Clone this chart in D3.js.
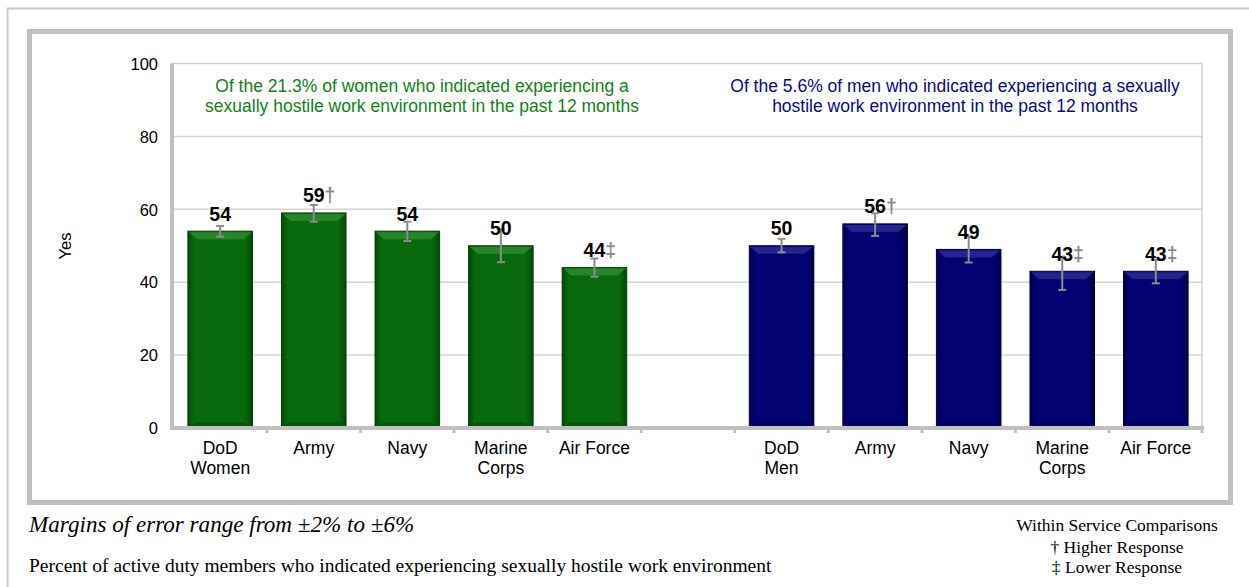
<!DOCTYPE html>
<html><head><meta charset="utf-8">
<script src="https://cdn.jsdelivr.net/npm/d3@7"></script>
<style>body{margin:0;background:#fff}svg{display:block}</style>
</head><body><svg id="c" width="1249" height="587"></svg>
<script>
const womenCategories = ["DoD\nWomen","Army","Navy","Marine\nCorps","Air Force"];
const menCategories = ["DoD\nMen","Army","Navy","Marine\nCorps","Air Force"];
const womenValues = [54,59,54,50,44];
const menValues = [50,56,49,43,43];
const womenErrLow = [52.5,56.6,51.3,45.5,41.5];
const womenErrHigh = [55.4,61.2,56.6,54.5,46.5];
const menErrLow = [48.2,52.7,45.4,37.9,39.7];
const menErrHigh = [51.9,58.9,52.5,47,46.1];
const womenMarks = ["","†","","","‡"];
const menMarks = ["","†","","‡","‡"];
const yTicks = [0,20,40,60,80,100];
const womenNote = ["Of the 21.3% of women who indicated experiencing a","sexually hostile work environment in the past 12 months"];
const menNote = ["Of the 5.6% of men who indicated experiencing a sexually","hostile work environment in the past 12 months"];

const svg = d3.select("#c");
const sans = "'Liberation Sans', Arial, sans-serif";
const serif = "'Liberation Serif', 'Times New Roman', serif";

// frames
svg.append("rect").attr("x",7.5).attr("y",8.5).attr("width",1260).attr("height",600).attr("fill","none").attr("stroke","#c8c8c8").attr("stroke-width",2);
svg.append("rect").attr("x",29.5).attr("y",31.5).attr("width",1201).attr("height",471).attr("fill","#fff").attr("stroke","#c0c0c0").attr("stroke-width",5);

const rows = [];
womenCategories.forEach((c,i)=>rows.push({key:"w"+i,label:c,v:womenValues[i],lo:womenErrLow[i],hi:womenErrHigh[i],mark:womenMarks[i],g:"w"}));
rows.push({key:"gap",label:"",v:null});
menCategories.forEach((c,i)=>rows.push({key:"m"+i,label:c,v:menValues[i],lo:menErrLow[i],hi:menErrHigh[i],mark:menMarks[i],g:"m"}));

const x = d3.scaleBand().domain(rows.map(d=>d.key)).range([172,1204]).paddingInner(0.31).paddingOuter(0.17);
const y = d3.scaleLinear().domain([0,100]).range([428,63.5]);

// defs
const defs = svg.append("defs");
function grad(id, edge, mid){
  const g = defs.append("linearGradient").attr("id",id).attr("x1",0).attr("x2",1).attr("y1",0).attr("y2",0);
  g.append("stop").attr("offset","0").attr("stop-color",edge);
  g.append("stop").attr("offset","0.1").attr("stop-color",mid);
  g.append("stop").attr("offset","0.88").attr("stop-color",mid);
  g.append("stop").attr("offset","1").attr("stop-color",edge);
}
grad("gw","#04470a","#086a0c");
grad("gm","#00004a","#020272");

// plot border and gridlines
const plot = svg.append("g");
plot.append("rect").attr("x",172).attr("y",63.5).attr("width",1030).attr("height",364.5).attr("fill","none").attr("stroke","#cfcfcf").attr("stroke-width",1.5);
plot.selectAll("line.grid").data(yTicks.filter(t=>t>0&&t<100)).join("line")
  .attr("x1",172).attr("x2",1202).attr("y1",d=>y(d)).attr("y2",d=>y(d)).attr("stroke","#d4d4d4").attr("stroke-width",1.5);

// annotation texts
function note(lines, cx, color){
  const t = svg.append("text").attr("font-family",sans).attr("font-size",17.5).attr("fill",color).attr("text-anchor","middle");
  lines.forEach((l,i)=>t.append("tspan").attr("x",cx).attr("y",92+i*20).text(l));
}
note(womenNote,422,"#13801a");
note(menNote,955,"#0a0a80");

// bars
const bars = rows.filter(d=>d.v!==null);
const bg = svg.append("g");
bars.forEach(d=>{
  const x0 = x(d.key), w = x.bandwidth(), y0 = y(d.v), h = y(0)-y(d.v);
  bg.append("rect").attr("x",x0).attr("y",y0).attr("width",w).attr("height",h)
    .attr("fill",d.g==="w"?"url(#gw)":"url(#gm)").attr("stroke",d.g==="w"?"#034003":"#000040").attr("stroke-width",1);
  bg.append("path").attr("d",`M${x0+1},${y0+1}L${x0+w-1},${y0+1}L${x0+w-9},${y0+8}L${x0+9},${y0+8}Z`)
    .attr("fill",d.g==="w"?"#2f8a2f":"#2a2a92").attr("opacity",0.85);
  bg.append("path").attr("d",`M${x0+1},${y(0)}L${x0+w-1},${y(0)}L${x0+w-8},${y(0)-6}L${x0+8},${y(0)-6}Z`)
    .attr("fill",d.g==="w"?"#054d05":"#000050").attr("opacity",0.6);
});

// error bars
const eg = svg.append("g").attr("stroke","#8c8c8c").attr("stroke-width",2);
bars.forEach(d=>{
  const cx = x(d.key)+x.bandwidth()/2;
  eg.append("line").attr("x1",cx).attr("x2",cx).attr("y1",y(d.hi)).attr("y2",y(d.lo));
  eg.append("line").attr("x1",cx-4).attr("x2",cx+4).attr("y1",y(d.hi)).attr("y2",y(d.hi));
  eg.append("line").attr("x1",cx-4).attr("x2",cx+4).attr("y1",y(d.lo)).attr("y2",y(d.lo));
});

// value labels
bars.forEach(d=>{
  const cx = x(d.key)+x.bandwidth()/2;
  const t = svg.append("text").attr("x",cx).attr("y",y(d.v)-10.5).attr("text-anchor","middle")
    .attr("font-family",sans).attr("font-size",19.5).attr("font-weight","bold").attr("fill","#000");
  t.append("tspan").text(d.v);
  if(d.mark){
    t.append("tspan").attr("fill","#8a8a8a").text(d.mark);
    t.attr("text-anchor","start");
    const numW = t.select("tspan").node().getComputedTextLength();
    t.attr("x",cx-numW/2);
  }
});

// axes
const yAxis = d3.axisLeft(y).tickValues(yTicks).tickSize(0).tickPadding(14);
const ya = svg.append("g").attr("transform","translate(172,0)").call(yAxis);
ya.select(".domain").attr("stroke","#c0c0c0").attr("stroke-width",4).attr("d","M0,63.5V430");
ya.selectAll("text").attr("font-family",sans).attr("font-size",16.5).attr("fill","#000").attr("dy","0.35em");

const xa = svg.append("g").attr("transform","translate(0,428)");
xa.append("line").attr("x1",170).attr("x2",1204).attr("y1",0).attr("y2",0).attr("stroke","#c0c0c0").attr("stroke-width",4);
const bounds = rows.map(d=>x(d.key)-x.step()*x.paddingInner()/2).slice(1).concat([1202]);
xa.selectAll("line.t").data(bounds).join("line").attr("x1",d=>d).attr("x2",d=>d).attr("y1",0).attr("y2",5).attr("stroke","#c0c0c0").attr("stroke-width",3);
bars.forEach(d=>{
  const cx = x(d.key)+x.bandwidth()/2;
  const t = xa.append("text").attr("text-anchor","middle").attr("font-family",sans).attr("font-size",17.5).attr("fill","#000");
  d.label.split("\n").forEach((l,i)=>t.append("tspan").attr("x",cx).attr("y",26+i*20).text(l));
});

svg.append("text").attr("transform","translate(71,246) rotate(-90)").attr("text-anchor","middle")
  .attr("font-family",sans).attr("font-size",16.5).text("Yes");

// footer
svg.append("text").attr("x",29).attr("y",532).attr("font-family",serif).attr("font-style","italic").attr("font-size",23.1).text("Margins of error range from ±2% to ±6%");
svg.append("text").attr("x",29).attr("y",572).attr("font-family",serif).attr("font-size",19.5).text("Percent of active duty members who indicated experiencing sexually hostile work environment");
const lg = svg.append("text").attr("text-anchor","middle").attr("font-family",serif).attr("font-size",17.5);
lg.append("tspan").attr("x",1117).attr("y",531).text("Within Service Comparisons");
lg.append("tspan").attr("x",1117).attr("y",553).text("† Higher Response");
lg.append("tspan").attr("x",1117).attr("y",573).text("‡ Lower Response");
</script></body></html>
